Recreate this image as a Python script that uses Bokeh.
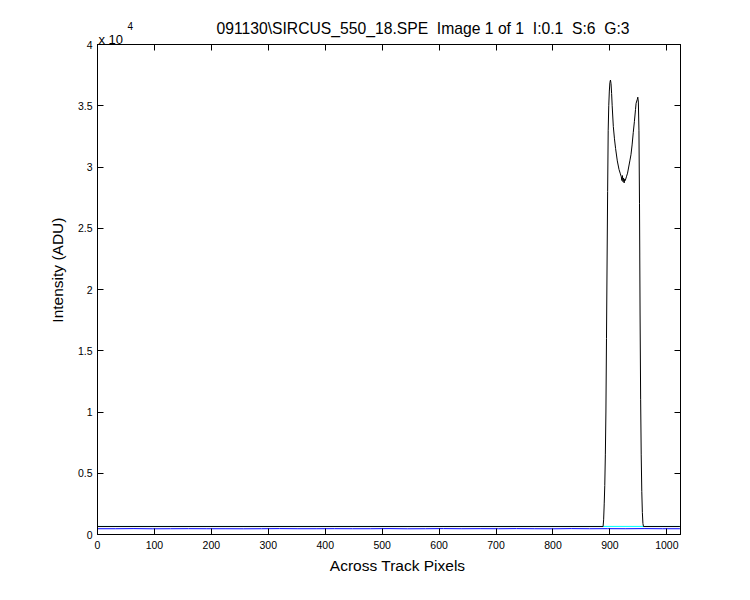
from bokeh.plotting import figure
from bokeh.models import Range1d, LinearAxis, FixedTicker, Label
from bokeh.embed import file_html
from bokeh.resources import INLINE

# ---- data ----
black_x = [0, 888, 889, 890, 891, 892, 893, 894, 895, 896, 897, 898, 899, 900, 901,
           902, 903, 904, 906, 908, 910, 913, 916, 918, 920, 921, 922, 923, 924, 925,
           926, 927, 929, 931, 933, 935, 937, 939, 941, 943, 945, 946, 948, 949, 950,
           951, 952, 953, 954, 955, 956, 957, 958, 959, 1023]
black_y = [650, 650, 1200, 2500, 4000, 6500, 10000, 16000, 22000, 28000, 33000, 35000,
           36200, 36900, 37100, 36800, 36000, 35000, 33300, 32300, 31500, 30500, 29800,
           29500, 29200, 28900, 29300, 28800, 29100, 28700, 29000, 28900, 29200, 29500,
           30000, 30500, 31000, 31800, 32800, 33700, 34700, 35200, 35500, 35700, 35300,
           33000, 27000, 18000, 11000, 6500, 3500, 1800, 900, 650, 650]

cyan_x = [0, 1023]
cyan_y = [660, 660]

blue_x = [0, 32, 64, 96, 128, 160, 192, 224, 256, 288, 320, 352, 384, 416, 448, 480,
          512, 544, 576, 608, 640, 672, 704, 736, 768, 800, 832, 864, 896, 928, 960,
          992, 1023]
blue_y = [470, 470, 480, 465, 470, 475, 470, 470, 465, 470, 480, 470, 470, 475, 470,
          470, 480, 465, 470, 480, 470, 475, 470, 480, 470, 465, 480, 470, 475, 470,
          480, 470, 470]

x_ticks = [0, 100, 200, 300, 400, 500, 600, 700, 800, 900, 1000]
y_ticks = [0, 5000, 10000, 15000, 20000, 25000, 30000, 35000, 40000]
y_tick_labels = ["0", "0.5", "1", "1.5", "2", "2.5", "3", "3.5", "4"]

title_text = "091130\\SIRCUS_550_18.SPE\u00a0 Image 1 of 1\u00a0 I:0.1\u00a0 S:6\u00a0 G:3"
exp_base = "x 10"
exp_power = "4"
x_label = "Across Track Pixels"
y_label = "Intensity (ADU)"

FONT = "Liberation Sans"
X_MAX, Y_MAX = 1024, 40000
FW, FH = 583, 490

p = figure(width=742, height=592, frame_width=FW, frame_height=FH,
           min_border_left=97, min_border_right=62, min_border_top=44, min_border_bottom=58,
           x_range=Range1d(0, X_MAX), y_range=Range1d(0, Y_MAX),
           output_backend="svg", toolbar_location=None, x_axis_location=None,
           y_axis_location=None)
p.grid.visible = False
p.outline_line_color = "black"
p.outline_line_width = 1
p.background_fill_color = "white"
p.border_fill_color = "white"

xt = FixedTicker(ticks=x_ticks)
yt = FixedTicker(ticks=y_ticks)

def style(ax, labels=True):
    ax.axis_line_color = "black"
    ax.major_tick_line_color = "black"
    ax.major_tick_in = 6
    ax.major_tick_out = 0
    ax.minor_tick_line_color = None
    ax.major_label_text_font = FONT
    ax.major_label_text_font_size = "10.5px" if labels else "0px"
    ax.major_label_text_color = "black"
    ax.axis_label_text_font = FONT
    ax.axis_label_text_font_size = "15.5px"
    ax.axis_label_text_font_style = "normal"
    ax.axis_label_text_color = "black"

# leading no-break spaces nudge the axis titles to where the reference draws them
bottom = LinearAxis(ticker=xt, axis_label="\u00a0" * 4 + x_label)
style(bottom)
bottom.major_label_standoff = 6
bottom.axis_label_standoff = 5
p.add_layout(bottom, "below")

left = LinearAxis(ticker=yt, axis_label="\u00a0" * 9 + y_label)
style(left)
left.major_label_overrides = {t: l for t, l in zip(y_ticks, y_tick_labels)}
left.major_label_standoff = 5
left.axis_label_standoff = 9
p.add_layout(left, "left")

top = LinearAxis(ticker=xt)
style(top, labels=False)
top.major_label_standoff = 0
top.major_label_overrides = {t: "" for t in x_ticks}
p.add_layout(top, "above")

right = LinearAxis(ticker=yt)
style(right, labels=False)
right.major_label_standoff = 0
right.major_label_overrides = {t: "" for t in y_ticks}
p.add_layout(right, "right")

p.line(cyan_x, cyan_y, line_color="#00ffff", line_width=1)
p.line(blue_x, blue_y, line_color="#0000ff", line_width=1)
p.line(black_x, black_y, line_color="black", line_width=1)

# pixel offsets from the frame's top-left corner, converted to data units
px_x = X_MAX / FW
px_y = Y_MAX / FH

p.add_layout(Label(x=119 * px_x, y=Y_MAX + 16 * px_y, text=title_text,
                   text_font=FONT, text_font_size="15.7px", text_align="left",
                   text_baseline="middle", text_color="black"), "above")
p.add_layout(Label(x=1 * px_x, y=Y_MAX + 5 * px_y, text=exp_base,
                   text_font=FONT, text_font_size="13px", text_align="left",
                   text_baseline="middle", text_color="black"), "right")
p.add_layout(Label(x=30 * px_x, y=Y_MAX + 18.5 * px_y, text=exp_power,
                   text_font=FONT, text_font_size="10px", text_align="left",
                   text_baseline="middle", text_color="black"), "right")

open("out.html", "w").write(file_html(p, INLINE))
